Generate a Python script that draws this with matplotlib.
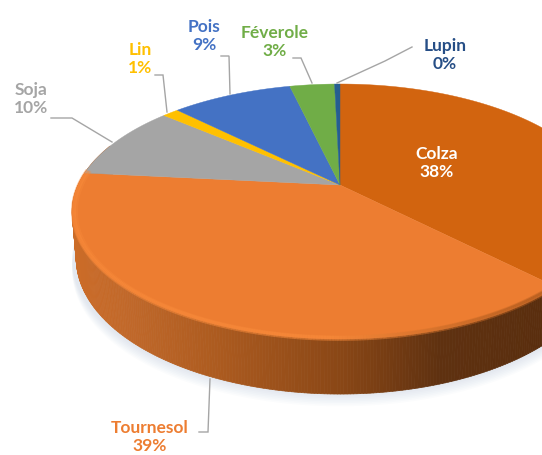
import numpy as np
import matplotlib
matplotlib.use('Agg')
import matplotlib.pyplot as plt
from matplotlib.collections import PolyCollection, LineCollection
from matplotlib.colors import to_rgb

# values going clockwise from the top of the pie
names = ['Colza', 'Tournesol', 'Soja', 'Lin', 'Pois', 'Féverole', 'Lupin']
values = [37.6, 39.0, 9.6, 1.2, 8.9, 3.3, 0.4]
colors = ['#D2640F', '#ED7D31', '#A5A5A5', '#FFC000', '#4472C4', '#70AD47', '#255E91']
text_colors = ['white', '#ED7D31', '#A5A5A5', '#FFC000', '#4472C4', '#70AD47', '#264E86']
label_xy = [(437, 163), (150, 437), (31, 99), (140, 59), (204, 36), (275, 42), (445, 55)]

# leader lines, in pixels of the picture
leaders = [None,
           [(199, 433), (208, 433), (210, 380)],
           [(51, 119), (72, 119), (112, 143)],
           [(155, 76), (163, 76), (167, 113)],
           [(221, 57), (229, 57), (230, 95)],
           [(293, 59), (301, 59), (312, 84)],
           [(412, 48), (385, 62), (337, 84)]]

# projection of the pie plane on the picture
cx, cy = 340, 186
R, S, k = 262, 122, 0.208


def project(ang):
    u = np.sin(ang)
    v = np.cos(ang)
    w = 1 + k * v
    return cx + R * u / w, cy - S * v / w


def wall_shift(ang):
    return 44 - 11 * np.cos(ang)


def wall_color(x):
    xs = [70, 130, 210, 340, 440, 542]
    cs = ['#CC6C28', '#C0682A', '#AE5C20', '#8A4716', '#5F3110', '#5A2E0E']
    rgb = np.array([to_rgb(c) for c in cs])
    return [np.interp(x, xs, rgb[:, i]) for i in range(3)]


fig = plt.figure(figsize=(5.42, 4.56), dpi=100)
ax = fig.add_axes([0, 0, 1, 1])
ax.set_xlim(0, 542)
ax.set_ylim(456, 0)
ax.axis('off')

edges = np.radians(np.cumsum([0] + values) * 3.6)
front = np.linspace(np.radians(60), np.radians(290), 400)

# soft shadow under the pie
fx, fy = project(front)
for i in range(8):
    s = wall_shift(front) + 1 + i * 1.6
    ax.fill(np.r_[fx, fx[::-1]], np.r_[fy, (fy + s)[::-1]], color='#9DB4C8', alpha=0.035, lw=0, zorder=1)

# side wall as narrow strips
quads = []
quad_colors = []
for a0, a1 in zip(front[:-1], front[1:]):
    x0, y0 = project(a0)
    x1, y1 = project(a1)
    bx0 = cx + (x0 - cx) * 0.985
    bx1 = cx + (x1 - cx) * 0.985
    quads.append([(x0, y0), (x1, y1), (bx1, y1 + wall_shift(a1)), (bx0, y0 + wall_shift(a0))])
    quad_colors.append(wall_color((x0 + x1) / 2))
ax.add_collection(PolyCollection(quads, facecolors=quad_colors, edgecolors=quad_colors, linewidths=0.5, zorder=2))

# top of the pie
for val, col, a0, a1 in zip(values, colors, edges[:-1], edges[1:]):
    t = np.linspace(a0, a1, max(int(val * 6), 4))
    x, y = project(t)
    ax.fill(np.r_[cx, x], np.r_[cy, y], color=col, lw=0.3, zorder=3)

# bevel along the front rim
rim = np.linspace(np.radians(137), np.radians(277), 300)
for inset, width, alpha in [(0.995, 3.5, 0.55), (0.985, 2.5, 0.35)]:
    x, y = project(rim)
    x = cx + (x - cx) * inset
    y = 212 + (y - 212) * inset
    pts = np.c_[x, y]
    segs = np.stack([pts[:-1], pts[1:]], axis=1)
    seg_cols = []
    for sx in x[:-1]:
        mix = np.clip((sx - 330) / 200, 0, 1)
        base = np.array(to_rgb('#F98B3B')) * (1 - mix) + np.array(to_rgb('#A9571C')) * mix
        seg_cols.append((*base, alpha))
    ax.add_collection(LineCollection(segs, colors=seg_cols, linewidths=width, zorder=4))

# labels
for name, val, col, xy, lead in zip(names, values, text_colors, label_xy, leaders):
    ax.text(xy[0], xy[1], f'{name}\n{round(val)}%', color=col, ha='center', va='center',
            fontsize=12.5, fontweight='bold', family='Lato', linespacing=1.15, zorder=6)
    if lead is not None:
        lx, ly = zip(*lead)
        ax.plot(lx, ly, color='#A5A5A5', lw=1, zorder=5, solid_joinstyle='miter')

fig.savefig('out.png', dpi=100)
